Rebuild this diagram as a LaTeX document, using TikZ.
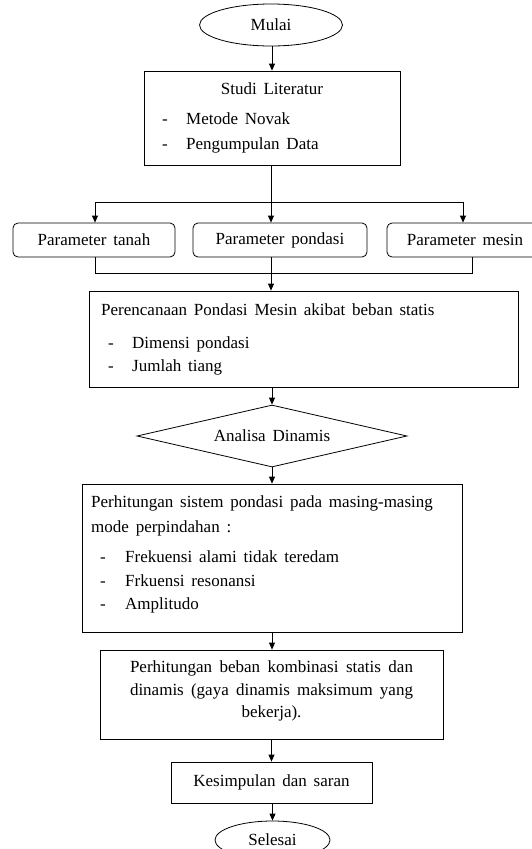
\documentclass[tikz,border=0pt]{standalone}
\usepackage{fontspec}
\setmainfont{Liberation Serif}
\usetikzlibrary{shapes.geometric,arrows.meta}
\newcommand{\chartfont}{\fontsize{17}{24}\selectfont\spaceskip=0.4em plus 0.2em minus 0.1em\relax}
\begin{document}
\begin{tikzpicture}[x=1pt,y=-1pt,
  every node/.style={font=\chartfont},
  box/.style={draw, rectangle, line width=0.8pt, inner sep=0pt},
  rbox/.style={box, rounded corners=5pt},
  oval/.style={draw, ellipse, line width=0.8pt, inner sep=0pt},
  decision/.style={draw, diamond, aspect=4.35, line width=0.8pt, inner sep=0pt},
  txt/.style={anchor=base west, inner sep=0pt},
  ctxt/.style={anchor=base, inner sep=0pt},
  conn/.style={line width=0.8pt},
  arr/.style={conn, -{Triangle[length=7pt,width=6pt]}}]
\useasboundingbox (0,0) rectangle (532,849);
% nodes
\node[oval, minimum width=143pt, minimum height=42pt] (mulai) at (271,25) {Mulai};
\node[box, minimum width=256pt, minimum height=94pt] (studi) at (272,118) {};
\node[ctxt] (studiT) at (272,94) {Studi Literatur};
\node[txt] (d1) at (162,124) {-};
\node[txt] (s1) at (186,124) {Metode Novak};
\node[txt] (d2) at (162,149) {-};
\node[txt] (s2) at (186,149) {Pengumpulan Data};

\node[rbox, minimum width=162pt, minimum height=34pt] (tanah) at (94,240) {Parameter tanah};
\node[rbox, minimum width=174pt, minimum height=34pt] (pondasi) at (280,240) {Parameter pondasi};
\node[rbox, minimum width=156pt, minimum height=34pt] (mesin) at (465,240) {Parameter mesin};

\node[box, minimum width=429pt, minimum height=96pt] (perenc) at (303.5,339) {};
\node[txt] (pT) at (101,315) {Perencanaan Pondasi Mesin akibat beban statis};
\node[txt] (d3) at (108,348) {-};
\node[txt] (p1) at (132,348) {Dimensi pondasi};
\node[txt] (d4) at (108,371) {-};
\node[txt] (p2) at (132,371) {Jumlah tiang};

\node[decision, minimum width=270pt, minimum height=62pt] (dia) at (272,436) {Analisa Dinamis};

\node[box, minimum width=380pt, minimum height=148pt] (perhit) at (272,558) {};
\node[txt] (hT1) at (91,507) {Perhitungan sistem pondasi pada masing-masing};
\node[txt] (hT2) at (91,532) {mode perpindahan :};
\node[txt] (d5) at (100,562) {-};
\node[txt] (h1) at (125,562) {Frekuensi alami tidak teredam};
\node[txt] (d6) at (100,586) {-};
\node[txt] (h2) at (125,586) {Frkuensi resonansi};
\node[txt] (d7) at (100,609) {-};
\node[txt] (h3) at (125,609) {Amplitudo};

\node[box, minimum width=343pt, minimum height=89pt] (beban) at (271.5,694.5) {};
\node[ctxt] (b1) at (271.5,672) {\makebox[283pt][s]{Perhitungan beban kombinasi statis dan}};
\node[ctxt] (b2) at (271.5,695) {\makebox[283pt][s]{dinamis (gaya dinamis maksimum yang}};
\node[ctxt] (b3) at (271.5,717) {bekerja).};

\node[box, minimum width=201pt, minimum height=41pt] (kesim) at (271.5,782.5) {Kesimpulan dan saran};
\node[oval, minimum width=115pt, minimum height=38pt] (selesai) at (272.5,840) {Selesai};

% helper coordinates
\coordinate (split) at (271,202);
\coordinate (jl) at (95,273);
\coordinate (jr) at (472,273);
\coordinate (jm) at (271,273);
\coordinate (sl) at (95,202);
\coordinate (sr) at (463,202);

% connectors
\draw[arr] (mulai.south -| studi.north) -- (studi.north);
\draw[conn] (studi.south -| split) -- (split);
\draw[conn] (sl) -- (sr);
\draw[arr] (sl) -- (sl |- tanah.north);
\draw[arr] (split) -- (split |- pondasi.north);
\draw[arr] (sr) -- (sr |- mesin.north);
\draw[conn] (jl |- tanah.south) -- (jl) -- (jr) -- (jr |- mesin.south);
\draw[arr] (jm |- pondasi.south) -- (jm |- perenc.north);
\draw[arr] (perenc.south -| dia.north) -- (dia.north);
\draw[arr] (dia.south) -- (dia.south |- perhit.north);
\draw[arr] (perhit.south -| dia.south) -- (dia.south |- beban.north);
\draw[arr] (beban.south -| kesim.north) -- (kesim.north);
\draw[arr] (kesim.south -| selesai.north) -- (selesai.north);
\end{tikzpicture}
\end{document}
